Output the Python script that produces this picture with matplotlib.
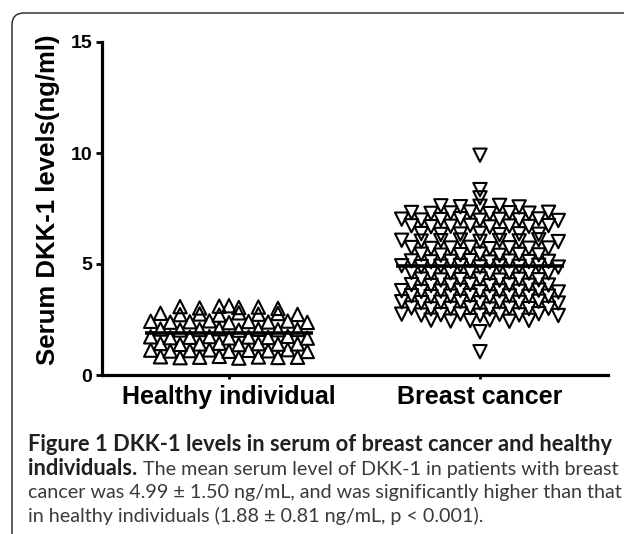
import matplotlib
matplotlib.use("Agg")
import matplotlib.pyplot as plt
import numpy as np
from matplotlib.patches import FancyBboxPatch
from matplotlib.transforms import IdentityTransform

# ---------------- data ----------------
categories = ["Healthy individual", "Breast cancer"]

healthy_values = [
    3.08, 3.02, 3.10, 3.04, 3.06, 3.00, 3.12,
    2.78, 2.72, 2.75, 2.70, 2.80, 2.74, 2.77, 2.73,
    2.42, 2.38, 2.40, 2.44, 2.36, 2.41, 2.39, 2.43, 2.37,
    2.07, 2.03, 2.05, 2.08, 2.02, 2.06, 2.04, 2.05,
    1.72, 1.68, 1.70, 1.73, 1.67, 1.71, 1.69, 1.74, 1.66,
    1.42, 1.38, 1.40, 1.43, 1.37, 1.41, 1.39, 1.40,
    1.12, 1.08, 1.10, 1.13, 1.07, 1.11, 1.09, 1.14, 1.06,
    0.82, 0.78, 0.80, 0.84, 0.76, 0.81, 0.79, 0.80,
]

cancer_values = [
    9.90,
    8.35,
    7.98,
    7.62, 7.58, 7.60, 7.64, 7.57,
    7.32, 7.28, 7.30, 7.34, 7.27, 7.31, 7.29, 7.33,
    7.02, 6.98, 7.00, 7.04, 6.97, 7.01, 6.99, 7.03, 6.96,
    6.72, 6.68, 6.70, 6.74, 6.67, 6.71, 6.69, 6.73,
    6.37, 6.33, 6.35, 6.38, 6.32, 6.36, 6.34,
    6.07, 6.03, 6.05, 6.08, 6.02, 6.06, 6.04, 6.09, 6.01,
    5.74, 5.70, 5.72, 5.75, 5.69, 5.73, 5.71, 5.72,
    5.44, 5.40, 5.42, 5.45, 5.39, 5.43, 5.41,
    5.14, 5.10, 5.12, 5.15, 5.09, 5.13, 5.11, 5.12,
    4.92, 4.88, 4.90, 4.93, 4.87, 4.91, 4.89, 4.94, 4.86,
    4.62, 4.58, 4.60, 4.63, 4.57, 4.61, 4.59, 4.60,
    4.32, 4.28, 4.30, 4.33, 4.27, 4.31, 4.29,
    4.07, 4.03, 4.05, 4.08, 4.02, 4.06, 4.04, 4.05,
    3.80, 3.76, 3.78, 3.81, 3.75, 3.79, 3.77, 3.82, 3.74,
    3.57, 3.53, 3.55, 3.58, 3.52, 3.56, 3.54, 3.55,
    3.30, 3.26, 3.28, 3.31, 3.25, 3.29, 3.27, 3.32, 3.24,
    3.02, 2.98, 3.00, 3.03, 2.97, 3.01, 2.99, 3.00,
    2.74, 2.70, 2.72, 2.75, 2.69, 2.73, 2.71, 2.76, 2.68,
    2.47, 2.43, 2.45, 2.48, 2.42, 2.46,
    1.95,
    1.05,
]

y_ticks = [0, 5, 10, 15]
y_label = "Serum DKK-1 levels(ng/ml)"

caption_line1 = "Figure 1 DKK-1 levels in serum of breast cancer and healthy"
caption_line2_bold = "individuals."
caption_line2_rest = "The mean serum level of DKK-1 in patients with breast"
caption_line3 = "cancer was 4.99 \u00b1 1.50 ng/mL, and was significantly higher than that"
caption_line4 = "in healthy individuals (1.88 \u00b1 0.81 ng/mL, p < 0.001)."

# ---------------- helpers ----------------
W, H = 624, 534


def spread_offsets(values, spacing=0.078, row_tol=0.12):
    """Column-scatter layout: points of similar value share a row and are
    spread evenly left/right of the column centre."""
    v = np.asarray(values, dtype=float)
    order = np.argsort(v, kind="stable")
    rows = []
    cur = [order[0]]
    start = v[order[0]]
    for idx in order[1:]:
        if v[idx] - start > row_tol:
            rows.append(cur)
            cur = [idx]
            start = v[idx]
        else:
            cur.append(idx)
    rows.append(cur)
    off = np.zeros_like(v)
    for r in rows:
        r = sorted(r)
        n = len(r)
        for k, idx in enumerate(r):
            off[idx] = (k - (n - 1) / 2.0) * spacing
    return off


plt.rcParams["font.family"] = ["Liberation Sans", "DejaVu Sans"]

fig = plt.figure(figsize=(W / 100, H / 100), dpi=100)
fig.patch.set_facecolor("white")

# rounded frame (open to the right and bottom)
frame = FancyBboxPatch((12, -40), 720, (H - 13) + 40,
                       boxstyle="round,pad=0,rounding_size=12",
                       transform=IdentityTransform(),
                       facecolor="none", edgecolor="#333333", linewidth=1.1)
fig.add_artist(frame)

ax = fig.add_axes([102 / W, 1 - 375 / H, (608 - 102) / W, (375 - 42) / H])
ax.set_facecolor("none")

groups = [healthy_values, cancer_values]
markers = ["^", "v"]
for i, (vals, mk) in enumerate(zip(groups, markers)):
    off = spread_offsets(vals)
    ax.scatter(i + off, vals, marker=mk, s=92, facecolors="none",
               edgecolors="black", linewidths=1.5, zorder=3)
    m = float(np.mean(vals))
    ax.hlines(m, i - 0.335, i + 0.335, color="black", linewidth=2.6, zorder=4)

ax.set_xlim(-0.506, 1.51)
ax.set_ylim(0, 15)

for s in ["top", "right"]:
    ax.spines[s].set_visible(False)
for s in ["left", "bottom"]:
    ax.spines[s].set_linewidth(2.3)
    ax.spines[s].set_color("black")

ax.set_yticks(y_ticks)
ax.set_yticklabels([str(t) for t in y_ticks], fontsize=14, fontweight="bold")
ax.tick_params(axis="y", direction="out", length=4, width=2, pad=3)
ax.set_xticks([0, 1])
ax.set_xticklabels(categories, fontsize=18, fontweight="bold")
ax.tick_params(axis="x", direction="out", length=3, width=2, pad=4)

fig.text(48 / W, 1 - 200 / H, y_label, rotation=90, ha="center", va="center",
         fontsize=18.5, fontweight="bold")

# ---------------- caption ----------------
cap_font = ["Lato", "Open Sans", "DejaVu Sans"]
x0 = 28
bold_col = "#231f20"
reg_col = "#3a3a3a"
baselines = [451, 475, 498, 522]

renderer = fig.canvas.get_renderer()


def fit(t, target_px):
    w = t.get_window_extent(renderer).width
    t.set_fontsize(t.get_fontsize() * target_px / w)


t1 = fig.text(x0 / W, 1 - baselines[0] / H, caption_line1, fontsize=12,
              fontweight="bold", family=cap_font, color=bold_col, va="baseline")
fit(t1, 579)
t3 = fig.text(x0 / W, 1 - baselines[2] / H, caption_line3, fontsize=12,
              family=cap_font, color=reg_col, va="baseline")
fit(t3, 591)
bsize = t1.get_fontsize()
rsize = t3.get_fontsize()

t2a = fig.text(x0 / W, 1 - baselines[1] / H, caption_line2_bold, fontsize=bsize,
               fontweight="bold", family=cap_font, color=bold_col, va="baseline")
wa = t2a.get_window_extent(renderer).width
fig.text((x0 + wa + rsize * 0.28 * 100 / 72) / W, 1 - baselines[1] / H,
         caption_line2_rest, fontsize=rsize, family=cap_font, color=reg_col,
         va="baseline")
fig.text(x0 / W, 1 - baselines[3] / H, caption_line4, fontsize=rsize,
         family=cap_font, color=reg_col, va="baseline")

fig.savefig("out.png", dpi=100, facecolor="white")
